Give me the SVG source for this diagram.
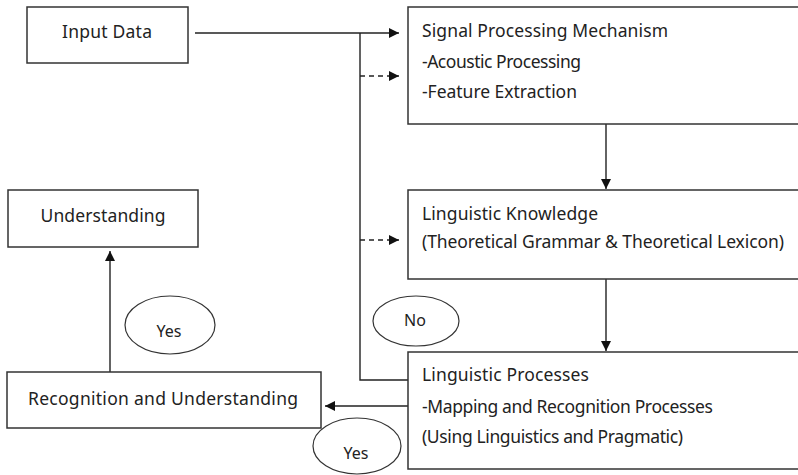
<svg xmlns="http://www.w3.org/2000/svg" width="798" height="475" viewBox="0 0 798 475">
<defs>
<marker id="ah" viewBox="0 0 10 10" refX="10" refY="5" markerWidth="10" markerHeight="10" markerUnits="userSpaceOnUse" orient="auto">
<path d="M0,0 L10,5 L0,10 z" fill="#111"/>
</marker>
<style>
.box{fill:#fff;stroke:#333;stroke-width:1.5}
.ell{fill:#fff;stroke:#333;stroke-width:1.2}
.t{font-family:"Noto Sans","Open Sans","DejaVu Sans",sans-serif;font-size:17.5px;fill:#222}
.s{font-size:16px}
.c{text-anchor:middle}
.ln{fill:none;stroke:#222;stroke-width:1.4}
.dash{stroke-dasharray:5,4}
</style>
</defs>
<rect width="798" height="475" fill="#fff"/>
<g id="connectors">
<path class="ln" d="M195,33 H399" marker-end="url(#ah)"/>
<path class="ln" d="M408,380 H360 V33"/>
<path class="ln dash" d="M360,76 H399" marker-end="url(#ah)"/>
<path class="ln dash" d="M360,240 H399" marker-end="url(#ah)"/>
<path class="ln" d="M606,124 V189" marker-end="url(#ah)"/>
<path class="ln" d="M606,279 V351" marker-end="url(#ah)"/>
<path class="ln" d="M408,406 H325" marker-end="url(#ah)"/>
<path class="ln" d="M110,372 V251" marker-end="url(#ah)"/>
</g>
<g id="input-data">
<rect class="box" x="27" y="7" width="161" height="56"/>
<text class="t c" x="107" y="38" textLength="90">Input Data</text>
</g>
<g id="signal-processing">
<rect class="box" x="408" y="7" width="400" height="117"/>
<text class="t" x="422" y="37" textLength="246">Signal Processing Mechanism</text>
<text class="t" x="422" y="68" textLength="159">-Acoustic Processing</text>
<text class="t" x="422" y="98" textLength="155">-Feature Extraction</text>
</g>
<g id="linguistic-knowledge">
<rect class="box" x="408" y="190" width="400" height="89"/>
<text class="t" x="422" y="220" textLength="176">Linguistic Knowledge</text>
<text class="t" x="422" y="248" textLength="362">(Theoretical Grammar &amp; Theoretical Lexicon)</text>
</g>
<g id="linguistic-processes">
<rect class="box" x="408" y="352" width="400" height="117"/>
<text class="t" x="422" y="381" textLength="167">Linguistic Processes</text>
<text class="t" x="422" y="413" textLength="291">-Mapping and Recognition Processes</text>
<text class="t" x="422" y="443" textLength="261">(Using Linguistics and Pragmatic)</text>
</g>
<g id="understanding">
<rect class="box" x="8" y="190" width="190" height="57"/>
<text class="t c" x="103" y="222" textLength="125">Understanding</text>
</g>
<g id="recognition">
<rect class="box" x="7" y="372" width="314" height="56"/>
<text class="t c" x="163" y="405" textLength="270">Recognition and Understanding</text>
</g>
<g id="label-no">
<ellipse class="ell" cx="416" cy="321" rx="43" ry="25"/>
<text class="t s c" x="415" y="326">No</text>
</g>
<g id="label-yes-1">
<ellipse class="ell" cx="170" cy="325" rx="45" ry="29"/>
<text class="t s c" x="169" y="337">Yes</text>
</g>
<g id="label-yes-2">
<ellipse class="ell" cx="357" cy="446" rx="44" ry="28"/>
<text class="t s c" x="356" y="459">Yes</text>
</g>
</svg>
